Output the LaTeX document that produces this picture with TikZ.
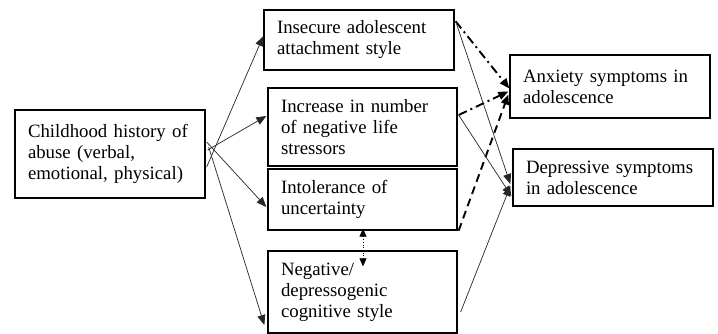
\documentclass[tikz,border=0pt]{standalone}
\usepackage{fontspec}
\setmainfont{Liberation Serif}
\usetikzlibrary{arrows.meta,calc}
\begin{document}
\begin{tikzpicture}[x=1pt,y=-1pt,
  box/.style={draw, line width=1.3pt, inner xsep=13pt, inner ysep=0pt, align=left,
    font=\fontsize{18.8}{21}\selectfont},
  tip/.style={-{Triangle[length=10pt,width=8pt]}},
  thinline/.style={tip, line width=0.7pt, draw=black!85},
  dashdot/.style={tip, line width=1.9pt, dash pattern=on 9pt off 4pt on 2pt off 4pt},
  dashline/.style={tip, line width=1.9pt, dash pattern=on 8pt off 5pt},
  dotline/.style={{Triangle[length=8pt,width=7pt]}-{Triangle[length=8pt,width=7pt]}, line width=0.7pt, dotted}]
\useasboundingbox (0,0) rectangle (718,334);
\fill[white] (0,0) rectangle (718,334);

\node[box, text width=164pt, minimum height=88pt] (child) at (110,154)
  {Childhood history of\\abuse (verbal,\\emotional, physical)};
\node[box, text width=164pt, minimum height=60pt] (insec) at (359,40)
  {Insecure adolescent\\attachment style};
\node[box, text width=163pt, minimum height=78pt] (incr) at (362.5,127)
  {Increase in number\\of negative life\\stressors};
\node[box, text width=163pt, minimum height=61pt] (intol) at (362.5,199.5)
  {Intolerance of\\uncertainty};
\node[box, text width=163pt, minimum height=82pt] (neg) at (362.5,292)
  {Negative/\\depressogenic\\cognitive style};
\node[box, text width=174pt, minimum height=63pt] (anx) at (610,86.5)
  {Anxiety symptoms in\\adolescence};
\node[box, text width=174pt, minimum height=57pt] (dep) at (613,177.5)
  {Depressive symptoms\\in adolescence};

% from childhood
\draw[thinline] ($(child.east)+(1,13)$) -- ($(insec.west)+(0,-4)$);
\draw[thinline] ($(child.east)+(2,-4)$) -- ($(incr.west)+(-1,-11)$);
\draw[thinline] ($(child.east)+(1,-12)$) -- ($(intol.west)+(-1,7.5)$);
\draw[thinline] ($(child.east)+(3,-7)$) -- ($(neg.west)+(-3,33)$);

% to anxiety
\draw[dashdot] ($(insec.north east)+(1,12)$) -- ($(anx.west)+(0,2)$);
\draw[dashdot] ($(incr.east)+(1,-12)$) -- ($(anx.west)+(-1,5)$);
\draw[dashline] ($(intol.south east)+(1,0)$) -- ($(anx.west)+(-1,8)$);

% to depressive
\draw[thinline] ($(insec.north east)+(1,12)$) -- ($(dep.west)+(-2,6.5)$);
\draw[thinline] ($(incr.east)+(1,-12)$) -- ($(dep.west)+(-1,18.5)$);
\draw[thinline] ($(neg.east)+(3,20)$) -- ($(dep.west)+(-2,8.5)$);

% dotted double arrow
\coordinate (dotend) at ($(neg.north)+(0.5,16)$);
\draw[dotline] ($(intol.south)+(0.5,-2)$) -- (dotend);
\end{tikzpicture}
\end{document}
